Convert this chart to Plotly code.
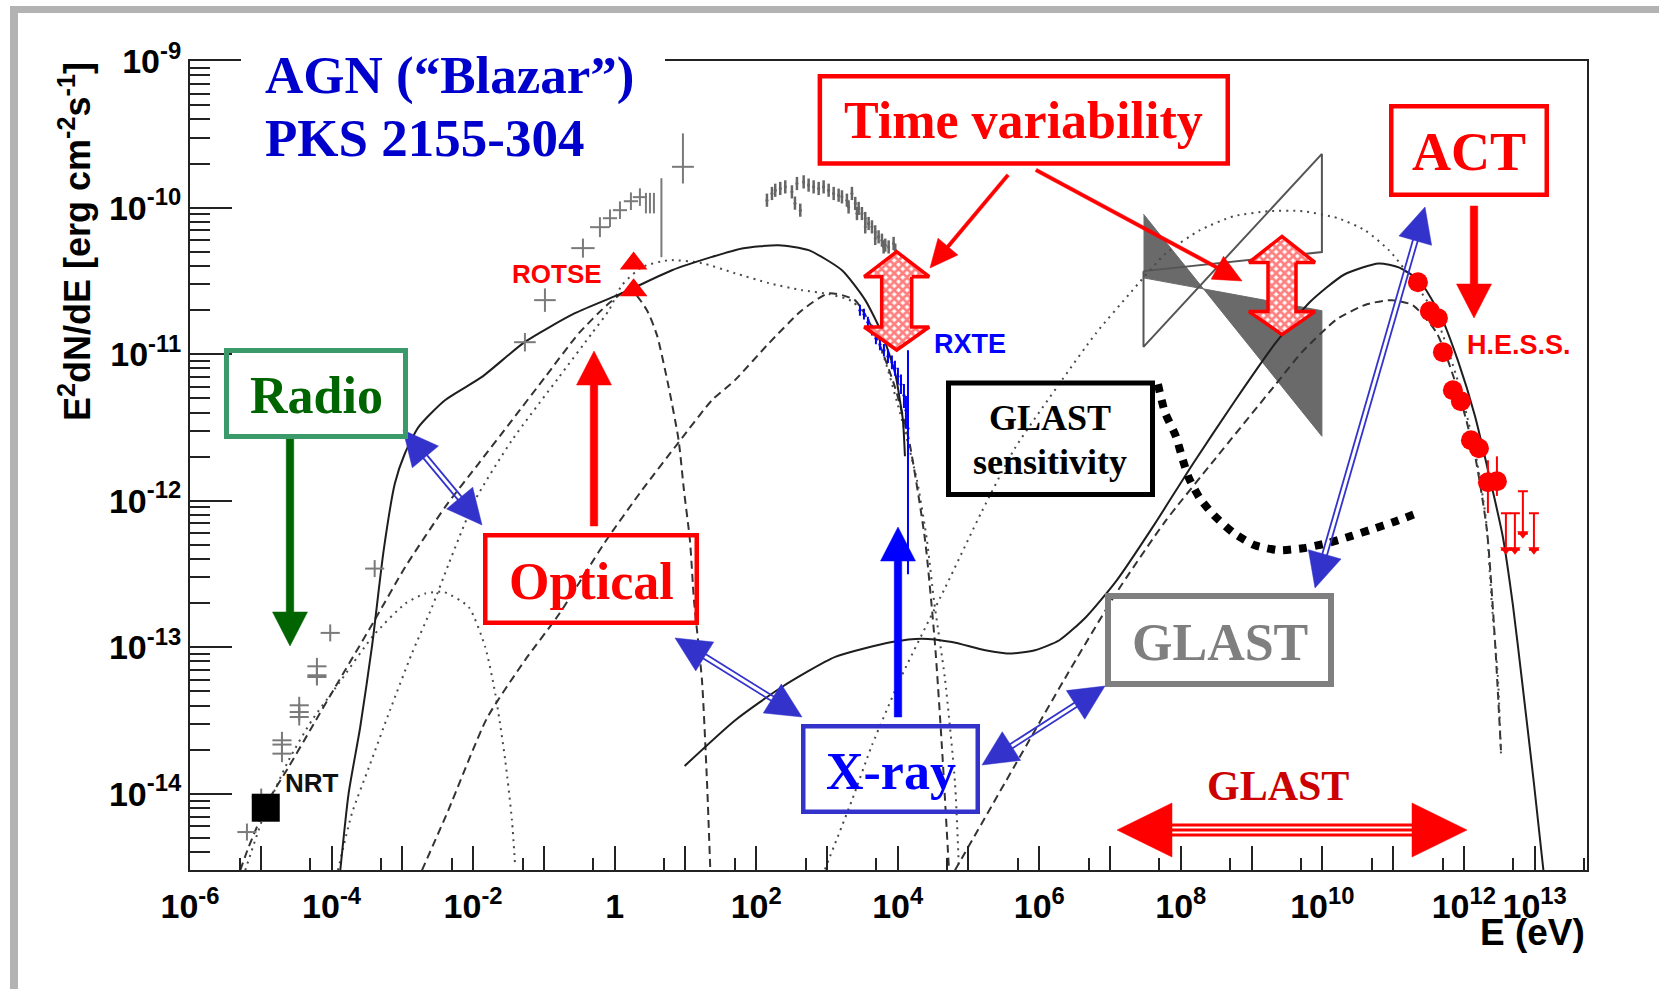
import math
import plotly.graph_objects as go

# ---------------- values ----------------
# all curves / points: log10(E / eV) and log10(E^2 dN/dE / erg cm^-2 s^-1)
sync_total_logE = [-3.877, -3.759, -3.595, -3.430, -3.264, -3.105, -2.963, -2.770, -2.398, -1.875, -1.268,
                   -0.561, 0.146, 0.810, 1.375, 1.799, 2.317, 2.741, 3.212, 3.541, 3.777, 3.965, 4.031, 4.074, 4.102]
sync_total_logF = [-14.522, -13.997, -13.544, -12.998, -12.338, -11.881, -11.676, -11.496, -11.314, -11.155, -10.916,
                   -10.720, -10.575, -10.427, -10.336, -10.278, -10.256, -10.290, -10.427, -10.631, -10.859, -11.132,
                   -11.314, -11.451, -11.696]

ic_total_logE = [0.989, 1.704, 2.364, 3.117, 3.918, 4.342, 4.766, 5.237, 5.614, 5.939, 6.284, 6.662, 7.095, 7.635,
                 8.170, 8.754, 9.337, 9.825, 10.311, 10.797, 11.089, 11.379, 11.673, 11.916, 12.156, 12.354, 12.549,
                 12.693, 12.816, 12.990, 13.124]
ic_total_logF = [-13.810, -13.498, -13.271, -13.066, -12.964, -12.941, -12.964, -13.020, -13.043, -13.020, -12.952,
                 -12.793, -12.543, -12.156, -11.749, -11.326, -10.925, -10.644, -10.456, -10.381, -10.409, -10.503,
                 -10.738, -11.044, -11.420, -11.819, -12.242, -12.713, -13.205, -13.928, -14.522]

sync1_logE = [-5.290, -5.172, -4.889, -4.607, -4.277, -3.948, -3.406, -2.959, -2.394, -1.922, -1.451, -0.981, -0.509,
              -0.085, 0.216, 0.456, 0.598, 0.763, 0.904, 0.979, 1.064, 1.121, 1.234, 1.304, 1.351]
sync1_logF = [-14.522, -14.363, -14.044, -13.817, -13.544, -13.271, -12.827, -12.452, -12.042, -11.746, -11.451,
              -11.155, -10.859, -10.654, -10.556, -10.700, -10.870, -11.223, -11.587, -11.928, -12.270, -12.679,
              -13.225, -13.908, -14.509]

sync0_logE = [-5.220, -4.956, -4.607, -4.277, -3.900, -3.406, -2.959, -2.676, -2.416, -2.063, -1.829, -1.687, -1.546,
              -1.451, -1.405]
sync0_logF = [-14.522, -14.147, -13.771, -13.498, -13.248, -12.918, -12.702, -12.633, -12.623, -12.725, -12.998,
              -13.316, -13.771, -14.181, -14.500]

sync2_logE = [-3.910, -3.712, -3.472, -3.175, -2.864, -2.582, -2.342, -1.974, -1.451, -0.787, -0.321, -0.081, 0.103,
              0.386, 0.767, 1.234, 1.700, 2.180, 2.647, 3.028, 3.353, 3.593, 3.819, 4.060, 4.272, 4.413, 4.512,
              4.667, 4.809, 4.865]
sync2_logF = [-14.522, -14.133, -13.819, -13.430, -13.041, -12.727, -12.427, -11.997, -11.587, -11.157, -10.857,
              -10.700, -10.529, -10.406, -10.358, -10.379, -10.447, -10.515, -10.563, -10.590, -10.638, -10.768,
              -11.041, -11.451, -11.860, -12.270, -12.679, -13.212, -13.922, -14.515]

sync3_logE = [-2.723, -2.356, -1.805, -1.268, -0.787, -0.137, 0.386, 0.894, 1.375, 1.700, 2.180, 2.647, 3.028, 3.395,
              3.678, 3.961, 4.159, 4.385, 4.526, 4.625, 4.724]
sync3_logF = [-14.522, -14.119, -13.485, -13.089, -12.775, -12.283, -11.928, -11.608, -11.314, -11.177, -10.925,
              -10.700, -10.584, -10.631, -10.857, -11.225, -11.587, -12.263, -12.973, -13.683, -14.515]

ic1_logE = [4.809, 5.661, 6.367, 7.074, 7.780, 8.487, 9.330, 9.712, 10.206, 10.630, 10.983, 11.280, 11.619, 11.916,
            12.156, 12.326, 12.439, 12.524]
ic1_logF = [-14.522, -13.802, -13.209, -12.640, -12.141, -11.714, -11.212, -10.986, -10.761, -10.659, -10.631,
            -10.666, -10.857, -11.246, -11.689, -12.201, -12.952, -13.703]

ic2_logE = [2.972, 3.353, 3.636, 4.060, 4.667, 5.190, 5.656, 6.320, 6.801, 7.295, 7.776, 8.270, 8.751, 9.245, 9.726,
            10.220, 10.602, 10.941, 11.181, 11.577, 11.916, 12.156, 12.312, 12.396, 12.481, 12.524]
ic2_logF = [-14.515, -14.044, -13.669, -13.191, -12.597, -12.072, -11.642, -11.177, -10.857, -10.577, -10.317,
            -10.154, -10.058, -10.024, -10.024, -10.072, -10.154, -10.290, -10.433, -10.713, -11.184, -11.655,
            -12.126, -12.713, -13.205, -13.724]

glast_sens_logE = [7.677, 7.776, 7.931, 8.030, 8.115, 8.270, 8.468, 8.751, 9.048, 9.387, 9.726, 10.065, 10.404,
                   10.701, 10.997, 11.379]
glast_sens_logF = [-11.205, -11.396, -11.560, -11.724, -11.846, -11.983, -12.099, -12.222, -12.304, -12.338, -12.324,
                   -12.290, -12.242, -12.195, -12.147, -12.078]

egret_fill_logE = [7.473, 9.994, 9.994, 7.473]
egret_fill_logF = [-10.044, -11.560, -10.703, -10.479]
egret_open_logE = [7.473, 9.994, 9.994, 7.473]
egret_open_logF = [-10.433, -10.303, -9.633, -10.950]

radio_logE = [-5.196, -4.994, -4.701, -4.701, -4.701, -4.457, -4.457, -4.457, -4.207, -4.207, -4.207, -4.019, -3.391]
radio_logF = [-14.261, -14.022, -13.635, -13.664, -13.726, -13.396, -13.442, -13.476, -13.130, -13.191, -13.203,
              -12.902, -12.463]
radio_dlogE = [0.135] * 13
radio_dlogF = [0.058] * 13

optical_logE = [-1.268, -0.985, -0.448, -0.208, -0.066, 0.075, 0.230, 0.357, 0.442, 0.499, 0.555, 0.661, 0.965]
optical_logF = [-10.918, -10.631, -10.276, -10.133, -10.072, -10.017, -9.956, -9.928, -9.969, -9.969, -9.969,
                -10.065, -9.721]
optical_dlogE = [0.153, 0.153, 0.165, 0.14, 0.1, 0.1, 0.1, 0.1, 0.0, 0.0, 0.0, 0.0, 0.155]
optical_dlogF_up = [0.063, 0.08, 0.065, 0.068, 0.06, 0.06, 0.06, 0.06, 0.07, 0.07, 0.07, 0.266, 0.228]
optical_dlogF_dn = [0.063, 0.08, 0.065, 0.068, 0.06, 0.06, 0.06, 0.06, 0.07, 0.07, 0.07, 0.273, 0.114]

xray_logE = [2.152, 2.223, 2.269, 2.340, 2.411, 2.505, 2.548, 2.576, 2.623, 2.671, 2.741, 2.812, 2.883, 2.953, 3.024,
             3.095, 3.165, 3.212, 3.282, 3.306, 3.353, 3.400, 3.424, 3.448, 3.494, 3.541, 3.541, 3.589, 3.636, 3.682,
             3.682, 3.730, 3.777, 3.801, 3.824, 3.872, 3.942, 3.965]
xray_logF = [-9.949, -9.903, -9.881, -9.869, -9.858, -9.892, -9.969, -9.835, -10.017, -9.824, -9.846, -9.858, -9.869,
             -9.858, -9.881, -9.903, -9.915, -9.926, -9.949, -9.995, -9.903, -9.971, -10.040, -10.005, -10.040,
             -10.074, -10.131, -10.108, -10.131, -10.165, -10.210, -10.199, -10.222, -10.268, -10.256, -10.268,
             -10.244, -10.290]

rxte_logE = [3.466, 3.523, 3.579, 3.636, 3.692, 3.749, 3.805, 3.862, 3.918, 3.961, 4.003, 4.046, 4.088, 4.116, 4.145]
rxte_logF = [-10.700, -10.727, -10.782, -10.836, -10.891, -10.932, -10.973, -11.014, -11.055, -11.096, -11.150,
             -11.205, -11.280, -11.382, -11.505]
rxte_dlogF_up = [0.03, 0.03, 0.03, 0.03, 0.035, 0.035, 0.035, 0.04, 0.04, 0.045, 0.05, 0.06, 0.07, 0.09, 0.525]
rxte_dlogF_dn = [0.03, 0.03, 0.03, 0.03, 0.035, 0.035, 0.035, 0.04, 0.04, 0.045, 0.05, 0.06, 0.08, 0.12, 0.99]

hess_logE = [11.351, 11.520, 11.633, 11.704, 11.845, 11.958, 12.100, 12.213, 12.340, 12.467]
hess_logF = [-10.509, -10.706, -10.754, -10.986, -11.246, -11.321, -11.587, -11.642, -11.874, -11.867]
hess_dlogF_up = [0.03, 0.03, 0.03, 0.03, 0.03, 0.03, 0.04, 0.04, 0.15, 0.17]
hess_dlogF_dn = [0.03, 0.03, 0.03, 0.03, 0.03, 0.03, 0.04, 0.04, 0.21, 0.10]
hess_ul_logE = [12.594, 12.721, 12.834, 12.990]
hess_ul_logF = [-12.085, -12.085, -11.935, -12.085]
hess_ul_len = [0.25, 0.25, 0.29, 0.25]

nrt_logE = [-4.93]
nrt_logF = [-14.095]
rotse_logE = [0.268, 0.268]
rotse_logF = [-10.381, -10.563]

x_tick_exp = list(range(-6, 14))
x_tick_labels = {-6: "10<sup>-6</sup>", -4: "10<sup>-4</sup>", -2: "10<sup>-2</sup>", 0: "1", 2: "10<sup>2</sup>",
                 4: "10<sup>4</sup>", 6: "10<sup>6</sup>", 8: "10<sup>8</sup>", 10: "10<sup>10</sup>",
                 12: "10<sup>12</sup>", 13: "10<sup>13</sup>"}
y_tick_exp = [-14, -13, -12, -11, -10, -9]

# ---------------- layout geometry (pixels of the 1659x989 page) ----------------
W, H = 1659, 989
PL, PR, PT, PB = 190, 1587, 61, 870


def PX(x):
    return (x - PL) / (PR - PL)


def PY(y):
    return (PB - y) / (PB - PT)


def lin(vals):
    return [10.0 ** v for v in vals]


def errs(vals, up, dn):
    return ([10 ** (v + u) - 10 ** v for v, u in zip(vals, up)],
            [10 ** v - 10 ** (v - d) for v, d in zip(vals, dn)])


fig = go.Figure()

# EGRET-like bow ties
fig.add_trace(go.Scatter(x=lin(egret_fill_logE), y=lin(egret_fill_logF), mode="lines", fill="toself",
                         fillcolor="#6a6a6a", line=dict(color="#6a6a6a", width=1), hoverinfo="skip"))
fig.add_trace(go.Scatter(x=lin(egret_open_logE + egret_open_logE[:1]), y=lin(egret_open_logF + egret_open_logF[:1]),
                         mode="lines", line=dict(color="#555555", width=2), hoverinfo="skip"))

SOLID = dict(color="#1e1e1e", width=2)
DASH = dict(color="#333333", width=2, dash="8px,5px")
DOT = dict(color="#4a4a4a", width=2, dash="2px,5px")
for lx, ly, st in [(sync0_logE, sync0_logF, DOT), (sync1_logE, sync1_logF, DASH), (sync2_logE, sync2_logF, DOT),
                   (sync3_logE, sync3_logF, DASH), (ic1_logE, ic1_logF, DASH), (ic2_logE, ic2_logF, DOT),
                   (sync_total_logE, sync_total_logF, SOLID), (ic_total_logE, ic_total_logF, SOLID)]:
    fig.add_trace(go.Scatter(x=lin(lx), y=lin(ly), mode="lines", line=dict(shape="spline", smoothing=0.6, **st),
                             hoverinfo="skip"))

# GLAST sensitivity
fig.add_trace(go.Scatter(x=lin(glast_sens_logE), y=lin(glast_sens_logF), mode="lines",
                         line=dict(color="black", width=8, dash="8px,8px", shape="spline", smoothing=0.6)))

GREY = "#7a7a7a"
# radio data
ep, em = errs(radio_logE, radio_dlogE, radio_dlogE)
fp, fm = errs(radio_logF, radio_dlogF, radio_dlogF)
fig.add_trace(go.Scatter(x=lin(radio_logE), y=lin(radio_logF), mode="markers", marker=dict(size=1, color=GREY),
                         error_x=dict(type="data", symmetric=False, array=ep, arrayminus=em, color=GREY, thickness=2, width=0),
                         error_y=dict(type="data", symmetric=False, array=fp, arrayminus=fm, color=GREY, thickness=2, width=0)))
# optical / IR data
ep, em = errs(optical_logE, optical_dlogE, optical_dlogE)
fp, fm = errs(optical_logF, optical_dlogF_up, optical_dlogF_dn)
fig.add_trace(go.Scatter(x=lin(optical_logE), y=lin(optical_logF), mode="markers", marker=dict(size=1, color=GREY),
                         error_x=dict(type="data", symmetric=False, array=ep, arrayminus=em, color=GREY, thickness=2, width=0),
                         error_y=dict(type="data", symmetric=False, array=fp, arrayminus=fm, color=GREY, thickness=2, width=0)))
# X-ray spectrum (grey)
n = len(xray_logE)
ep, em = errs(xray_logE, [0.014] * n, [0.014] * n)
fp, fm = errs(xray_logF, [0.045] * n, [0.045] * n)
fig.add_trace(go.Scatter(x=lin(xray_logE), y=lin(xray_logF), mode="markers", marker=dict(size=3, color="#666666"),
                         error_x=dict(type="data", symmetric=False, array=ep, arrayminus=em, color="#666666", thickness=2.5, width=0),
                         error_y=dict(type="data", symmetric=False, array=fp, arrayminus=fm, color="#666666", thickness=2.5, width=0)))
# RXTE
fp, fm = errs(rxte_logF, rxte_dlogF_up, rxte_dlogF_dn)
fig.add_trace(go.Scatter(x=lin(rxte_logE), y=lin(rxte_logF), mode="markers", marker=dict(size=3, color="#0000ff"),
                         error_y=dict(type="data", symmetric=False, array=fp, arrayminus=fm, color="#0000ff", thickness=2, width=1)))
# NRT
fig.add_trace(go.Scatter(x=lin(nrt_logE), y=lin(nrt_logF), mode="markers",
                         marker=dict(symbol="square", size=28, color="black")))
# ROTSE
fig.add_trace(go.Scatter(x=lin(rotse_logE), y=lin(rotse_logF), mode="markers",
                         marker=dict(symbol="triangle-up", size=24, color="#ff0000")))
# HESS
fp, fm = errs(hess_logF, hess_dlogF_up, hess_dlogF_dn)
fig.add_trace(go.Scatter(x=lin(hess_logE), y=lin(hess_logF), mode="markers",
                         marker=dict(symbol="circle", size=20, color="#ff0000"),
                         error_y=dict(type="data", symmetric=False, array=fp, arrayminus=fm, color="#ff0000", thickness=2, width=0)))
ul_tip = [f - l for f, l in zip(hess_ul_logF, hess_ul_len)]
fp, fm = errs(hess_ul_logF, [0] * 4, hess_ul_len)
fig.add_trace(go.Scatter(x=lin(hess_ul_logE), y=lin(hess_ul_logF), mode="markers", marker=dict(size=1, color="#ff0000"),
                         error_y=dict(type="data", symmetric=False, array=fp, arrayminus=fm, color="#ff0000", thickness=2, width=5)))
fig.add_trace(go.Scatter(x=lin(hess_ul_logE), y=lin(ul_tip), mode="markers",
                         marker=dict(symbol="triangle-down", size=10, color="#ff0000")))

# ---------------- decorative arrows (pixel space on an overlay axis pair) ----------------
DEC = dict(xaxis="x2", yaxis="y2", hoverinfo="skip")


def arrow_poly(x0, y0, x1, y1, sw, hl, hw, both=False, hl0=None):
    dx, dy = x1 - x0, y1 - y0
    ln = math.hypot(dx, dy)
    ux, uy = dx / ln, dy / ln
    nx, ny = -uy, ux
    if both:
        h0 = hl0 if hl0 else hl
        bx, by = x0 + ux * h0, y0 + uy * h0
        tail = [(bx - nx * sw / 2, by - ny * sw / 2), (bx - nx * hw / 2, by - ny * hw / 2), (x0, y0),
                (bx + nx * hw / 2, by + ny * hw / 2), (bx + nx * sw / 2, by + ny * sw / 2)]
    else:
        tail = [(x0 - nx * sw / 2, y0 - ny * sw / 2), (x0 + nx * sw / 2, y0 + ny * sw / 2)]
    bx, by = x1 - ux * hl, y1 - uy * hl
    head = [(bx + nx * sw / 2, by + ny * sw / 2), (bx + nx * hw / 2, by + ny * hw / 2), (x1, y1),
            (bx - nx * hw / 2, by - ny * hw / 2), (bx - nx * sw / 2, by - ny * sw / 2)]
    pts = tail + head + [tail[0]]
    return [p[0] for p in pts], [p[1] for p in pts]


def solid_arrow(p0, p1, color, sw=7.5, hl=34, hw=35):
    xs, ys = arrow_poly(p0[0], p0[1], p1[0], p1[1], sw, hl, hw)
    fig.add_trace(go.Scatter(x=xs, y=ys, mode="lines", fill="toself", fillcolor=color,
                             line=dict(color=color, width=0.5), **DEC))


def double_line_arrow(p0, p1, color="#3333cc", hl=35, hw=34, gap=2.4):
    x0, y0 = p0
    x1, y1 = p1
    ln = math.hypot(x1 - x0, y1 - y0)
    ux, uy = (x1 - x0) / ln, (y1 - y0) / ln
    nx, ny = -uy, ux
    ax, ay = x0 + ux * (hl - 3), y0 + uy * (hl - 3)
    bx, by = x1 - ux * (hl - 3), y1 - uy * (hl - 3)
    lx, ly = [], []
    for s in (-1, 1):
        lx += [ax + s * nx * gap, bx + s * nx * gap, None]
        ly += [ay + s * ny * gap, by + s * ny * gap, None]
    fig.add_trace(go.Scatter(x=lx, y=ly, mode="lines", line=dict(color=color, width=1.8), **DEC))
    tx, ty = [], []
    for (px_, py_, sx) in ((x0, y0, 1), (x1, y1, -1)):
        cx, cy = px_ + sx * ux * hl, py_ + sx * uy * hl
        tx += [px_, cx + nx * hw / 2, cx - nx * hw / 2, px_, None]
        ty += [py_, cy + ny * hw / 2, cy - ny * hw / 2, py_, None]
    fig.add_trace(go.Scatter(x=tx, y=ty, mode="lines", fill="toself", fillcolor=color,
                             line=dict(color=color, width=0.5), **DEC))


# thick single-headed arrows
solid_arrow((290, 439), (290, 646), "#006400")
solid_arrow((594, 526), (594, 351), "#ff0000")
solid_arrow((898, 717), (898, 527), "#0000ff")
solid_arrow((1474, 206), (1474, 318), "#ff0000")
# thin red arrows from "Time variability"
solid_arrow((1008, 175), (930, 268), "#ff0000", sw=3.5, hl=28, hw=26)
solid_arrow((1036, 170), (1242, 281), "#ff0000", sw=3.5, hl=28, hw=26)

# blue double-line, double-headed arrows
double_line_arrow((403, 430), (482, 525))
double_line_arrow((675, 638), (802, 717))
double_line_arrow((982, 765), (1105, 686))
double_line_arrow((1425, 207), (1315, 588))

# hatched "time variability" arrows
for (cx, ytop, ybot, h0, h1, hw, sw) in [(896.7, 251.7, 350, 25, 23, 65, 30), (1282, 236.4, 334.6, 26, 23, 66, 28)]:
    xs, ys = arrow_poly(cx, ytop, cx, ybot, sw, h1, hw, both=True, hl0=h0)
    fig.add_trace(go.Scatter(x=xs, y=ys, mode="lines", fill="toself",
                             fillpattern=dict(shape="x", fgcolor="#ff0000", bgcolor="#ffffff", size=6, solidity=0.7),
                             line=dict(color="#ff0000", width=3.5), **DEC))

# red GLAST range arrow (triple shaft)
gx0, gx1, gy = 1117, 1467, 830
ghl, ghw = 55, 54
fig.add_trace(go.Scatter(x=[gx0, gx0 + ghl, gx0 + ghl, gx0, None, gx1, gx1 - ghl, gx1 - ghl, gx1],
                         y=[gy, gy - ghw / 2, gy + ghw / 2, gy, None, gy, gy - ghw / 2, gy + ghw / 2, gy],
                         mode="lines", fill="toself", fillcolor="#ff0000", line=dict(color="#ff0000", width=0.5), **DEC))
sx, sy = [], []
for off in (-5, 0, 5):
    sx += [gx0 + ghl - 1, gx1 - ghl + 1, None]
    sy += [gy + off, gy + off, None]
fig.add_trace(go.Scatter(x=sx, y=sy, mode="lines", line=dict(color="#ff0000", width=3.2), **DEC))

# ---------------- boxes, texts ----------------
shapes = []
# outer grey frame of the slide
shapes.append(dict(type="rect", xref="paper", yref="paper", x0=PX(10), x1=PX(W + 5), y0=PY(13), y1=PY(6),
                   fillcolor="#b3b3b3", line=dict(width=0), layer="above"))
shapes.append(dict(type="rect", xref="paper", yref="paper", x0=PX(10), x1=PX(18), y0=PY(H + 5), y1=PY(6),
                   fillcolor="#b3b3b3", line=dict(width=0), layer="above"))
# white patch behind the title
shapes.append(dict(type="rect", xref="paper", yref="paper", x0=PX(241), x1=PX(665), y0=PY(165), y1=PY(40),
                   fillcolor="white", line=dict(width=0), layer="above"))

boxes = [((817.6, 74, 1230, 165.7), 4.5, "#ff0000"),
         ((1389, 104, 1549, 197), 4.5, "#ff0000"),
         ((224, 348, 408, 439), 5, "#3a9a6a"),
         ((483, 533, 699, 625), 4.5, "#ff0000"),
         ((946, 380.6, 1155, 497), 5, "#000000"),
         ((1105, 593, 1334, 687), 6, "#7f7f7f"),
         ((801, 724, 980, 814), 4.5, "#3333cc")]
for (x0, y0, x1, y1), w, c in boxes:
    shapes.append(dict(type="rect", xref="paper", yref="paper", x0=PX(x0 + w / 2), x1=PX(x1 - w / 2),
                       y0=PY(y1 - w / 2), y1=PY(y0 + w / 2), line=dict(color=c, width=w), layer="above"))

SERIF = "Liberation Serif, Times New Roman, serif"
SANS = "Liberation Sans, Arial, sans-serif"
texts = [
    ("<b>AGN (\u201cBlazar\u201d)</b>", 263, 75, "left", 53, SERIF, "#0000cc"),
    ("<b>PKS 2155-304</b>", 263, 137.5, "left", 53, SERIF, "#0000cc"),
    ("<b>Time variability</b>", 1024, 120.5, "center", 52, SERIF, "#ff0000"),
    ("<b>ACT</b>", 1469, 151.5, "center", 54, SERIF, "#ff0000"),
    ("<b>Radio</b>", 316, 395.5, "center", 52, SERIF, "#006400"),
    ("<b>Optical</b>", 591, 581, "center", 52, SERIF, "#ff0000"),
    ("<b>GLAST</b>", 1050, 417.5, "center", 36, SERIF, "#000000"),
    ("<b>sensitivity</b>", 1050, 462, "center", 36, SERIF, "#000000"),
    ("<b>GLAST</b>", 1219.5, 642.5, "center", 52, SERIF, "#7f7f7f"),
    ("<b>X-ray</b>", 890.5, 771, "center", 52, SERIF, "#0000ff"),
    ("<b>GLAST</b>", 1277.5, 786, "center", 42, SERIF, "#cc0000"),
    ("<b>ROTSE</b>", 556.7, 274.3, "center", 26, SANS, "#ff0000"),
    ("<b>RXTE</b>", 970, 344, "center", 27, SANS, "#0000ff"),
    ("<b>H.E.S.S.</b>", 1519, 345, "center", 27, SANS, "#ff0000"),
    ("<b>NRT</b>", 311.7, 782.5, "center", 26, SANS, "#111111"),
    ("<b>E (eV)</b>", 1587, 932.6, "right", 37, SANS, "#000000"),
]
annotations = []
for t, x, y, xa, size, fam, col in texts:
    annotations.append(dict(text=t, x=PX(x), y=PY(y), xref="paper", yref="paper", xanchor=xa, yanchor="middle",
                            showarrow=False, font=dict(size=size, family=fam, color=col)))
annotations.append(dict(text="<b>E<sup>2</sup>dN/dE [erg cm<sup>-2</sup>s<sup>-1</sup>]</b>", x=PX(75), y=PY(242),
                        xref="paper", yref="paper", xanchor="center", yanchor="middle", textangle=-90,
                        showarrow=False, font=dict(size=36, family=SANS, color="#000000")))

TICKFONT = dict(size=34, family=SANS, color="black", weight="bold")
fig.update_layout(
    width=W, height=H, margin=dict(l=PL, r=W - PR, t=PT, b=H - PB),
    paper_bgcolor="white", plot_bgcolor="white", showlegend=False,
    font=dict(family=SANS, color="black"),
    xaxis=dict(type="log", range=[-6.0005, 13.74], showline=True, linecolor="#222222", linewidth=2, mirror=True,
               ticks="inside", ticklen=24, tickwidth=2, tickcolor="#222222",
               tickvals=[10.0 ** k for k in x_tick_exp],
               ticktext=[x_tick_labels.get(k, "") for k in x_tick_exp], tickangle=0, ticklabelstandoff=5,
               tickfont=TICKFONT, showgrid=False, zeroline=False,
               minor=dict(tickmode="array", tickvals=[5 * 10.0 ** k for k in range(-6, 14)], ticks="inside",
                          ticklen=12, tickwidth=2, tickcolor="#222222", showgrid=False)),
    yaxis=dict(type="log", range=[-14.52, -8.999], showline=True, linecolor="#222222", linewidth=2, mirror=True,
               ticks="inside", ticklen=42, tickwidth=2, tickcolor="#222222",
               tickvals=[10.0 ** k for k in y_tick_exp],
               ticktext=["10<sup>%d</sup>" % k for k in y_tick_exp],
               tickfont=TICKFONT, showgrid=False, zeroline=False,
               minor=dict(tickmode="array", tickvals=[m * 10.0 ** k for k in range(-15, -9) for m in range(2, 10)],
                          ticks="inside", ticklen=20, tickwidth=2, tickcolor="#222222", showgrid=False)),
    xaxis2=dict(overlaying="x", anchor="y2", range=[PL, PR], visible=False),
    yaxis2=dict(overlaying="y", anchor="x2", range=[PB, PT], visible=False),
    shapes=shapes, annotations=annotations,
)

fig.write_html("out.html")
